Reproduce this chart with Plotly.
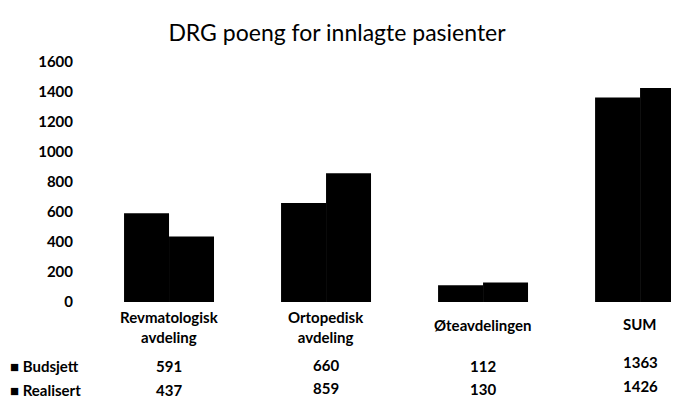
import plotly.graph_objects as go

categories = ["Revmatologisk<br>avdeling", "Ortopedisk<br>avdeling", "Øteavdelingen", "SUM"]
budsjett = [591, 660, 112, 1363]
realisert = [437, 859, 130, 1426]
series_names = ["Budsjett", "Realisert"]
y_ticks = [0, 200, 400, 600, 800, 1000, 1200, 1400, 1600]

FONT = "Lato"
OFF = 8  # page body margin offset

fig = go.Figure()
for name, vals in zip(series_names, [budsjett, realisert]):
    fig.add_trace(go.Bar(x=list(range(len(categories))), y=vals, name=name,
                         marker=dict(color="#000000", line=dict(width=0)),
                         showlegend=False))

W, H = 679 - OFF, 400 - OFF
L, R, T, B = 80 - OFF, 0, 62 - OFF, 98
ph = H - T - B
pw = W - L - R

def ypaper(page_y):
    return (H - B - (page_y - OFF)) / ph

def xpaper(page_x):
    return (page_x - OFF - L) / pw

lab_font = dict(family=FONT, size=15, color="#000", weight="bold")

annotations = []
cat_y = [327, 327, 325, 324]
b_y = [366, 365, 366, 362]
r_y = [390, 388, 389, 386]
for i, c in enumerate(categories):
    annotations.append(dict(x=i, xref="x", y=ypaper(cat_y[i]), yref="paper", text=c,
                            showarrow=False, xanchor="center", yanchor="middle",
                            font=lab_font, align="center"))
    annotations.append(dict(x=i, xref="x", y=ypaper(b_y[i]), yref="paper", text=str(budsjett[i]),
                            showarrow=False, xanchor="center", yanchor="middle", font=lab_font))
    annotations.append(dict(x=i, xref="x", y=ypaper(r_y[i]), yref="paper", text=str(realisert[i]),
                            showarrow=False, xanchor="center", yanchor="middle", font=lab_font))
for name, py in zip(series_names, [366, 390]):
    annotations.append(dict(x=xpaper(8), xref="paper", y=ypaper(py), yref="paper",
                            text="■ " + name, showarrow=False, xanchor="left", yanchor="middle",
                            font=lab_font))

fig.update_layout(
    width=W, height=H,
    margin=dict(l=L, r=R, t=T, b=B),
    paper_bgcolor="white", plot_bgcolor="white",
    barmode="group", bargap=0.427, bargroupgap=0,
    title=dict(text="DRG poeng for innlagte pasienter", x=(337 - OFF) / W, xanchor="center",
               y=1 - (33 - OFF) / H, yanchor="middle",
               font=dict(family=FONT, size=23, color="#000")),
    xaxis=dict(range=[-0.567, 3.248], showticklabels=False, showgrid=False,
               zeroline=False, showline=False, ticks=""),
    yaxis=dict(range=[0, 1600], tickvals=y_ticks, showgrid=False, zeroline=False,
               showline=False, ticks="", ticklabelstandoff=6,
               tickfont=dict(family=FONT, size=15, color="#000", weight="bold")),
    annotations=annotations,
)
fig.write_html("out.html")
